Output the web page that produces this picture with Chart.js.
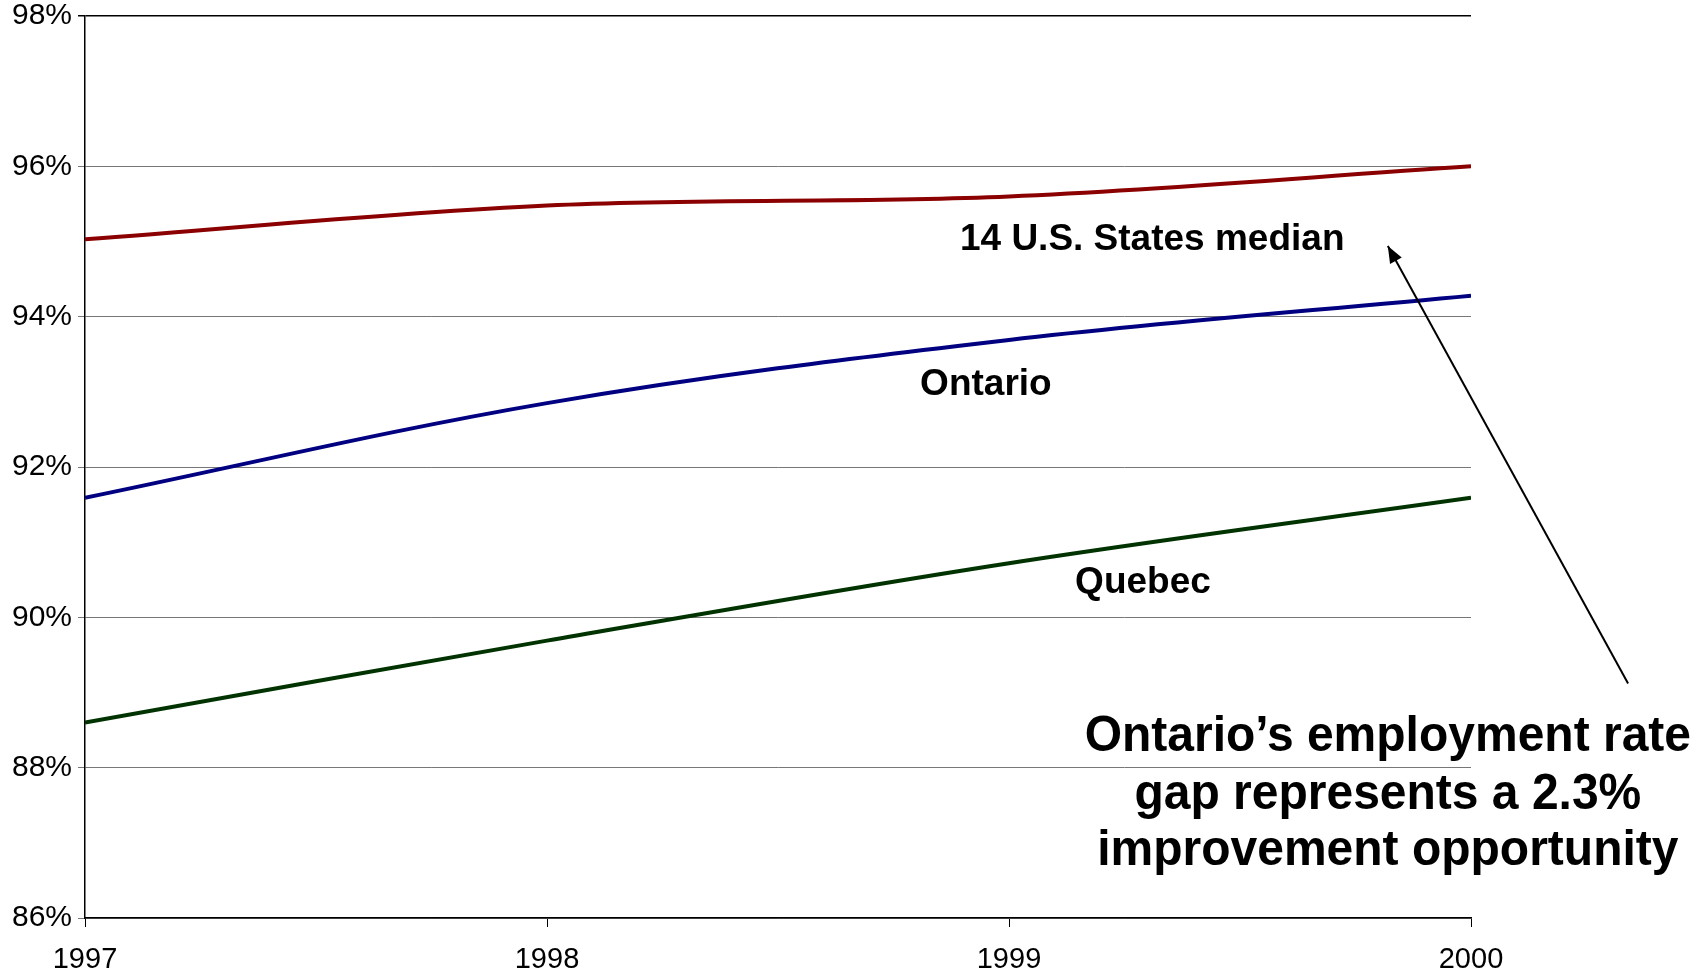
<!DOCTYPE html>
<html>
<head>
<meta charset="utf-8">
<script src="https://cdn.jsdelivr.net/npm/chart.js@4"></script>
<style>
  html, body { margin: 0; padding: 0; background: #fff; }
  #wrap { width: 1707px; height: 975px; }
</style>
</head>
<body>
<div id="wrap"><canvas id="myChart"></canvas></div>
<script>
const ctx = document.getElementById('myChart');

let years      = [1997, 1998, 1999, 2000];
let usMedian   = [95.03, 95.48, 95.6, 96.0];
let ontario    = [91.59, 92.85, 93.69, 94.28];
let quebec     = [88.6, 89.69, 90.72, 91.59];
let yTicks     = [86, 88, 90, 92, 94, 96, 98];

const toPoints = (arr) => arr.map((v, i) => ({ x: years[i], y: v }));

// text labels and the arrow, placed in data units
const notes = {
  id: 'notes',
  afterDatasetsDraw(chart) {
    const c = chart.ctx;
    const xs = chart.scales.x, ys = chart.scales.y;
    const px = v => xs.getPixelForValue(v);
    const py = v => ys.getPixelForValue(v);
    c.save();
    c.fillStyle = '#000';
    c.textAlign = 'center';
    c.textBaseline = 'middle';
    c.font = 'bold 37px "Liberation Sans", Arial, sans-serif';
    c.fillText('14 U.S. States median', px(1999.31), py(95.02));
    c.fillText('Ontario', px(1998.95), py(93.10));
    c.fillText('Quebec', px(1999.29), py(90.46));

    // big note, slightly condensed
    const lines = ['Ontario\u2019s employment rate', 'gap represents a 2.3%', 'improvement opportunity'];
    const ly = [88.40, 87.63, 86.89];
    c.font = 'bold 50px "Liberation Sans", Arial, sans-serif';
    lines.forEach((t, i) => {
      c.save();
      c.translate(px(1999.82), py(ly[i]));
      c.scale(0.96, 1);
      c.fillText(t, 0, 0);
      c.restore();
    });

    // arrow
    const x1 = px(2000.34), y1 = py(89.12);
    const x2 = px(1999.82), y2 = py(94.94);
    c.strokeStyle = '#000';
    c.lineWidth = 2;
    c.beginPath();
    c.moveTo(x1, y1);
    c.lineTo(x2, y2);
    c.stroke();
    const a = Math.atan2(y2 - y1, x2 - x1);
    const len = 18, w = 0.38;
    c.beginPath();
    c.moveTo(x2, y2);
    c.lineTo(x2 - len * Math.cos(a - w), y2 - len * Math.sin(a - w));
    c.lineTo(x2 - len * Math.cos(a + w), y2 - len * Math.sin(a + w));
    c.closePath();
    c.fill();
    c.restore();
  }
};

new Chart(ctx, {
  type: 'line',
  data: {
    datasets: [{
      label: '14 U.S. States median',
      data: toPoints(usMedian),
      borderColor: '#8b0000',
      borderWidth: 4
    }, {
      label: 'Ontario',
      data: toPoints(ontario),
      borderColor: '#000080',
      borderWidth: 4
    }, {
      label: 'Quebec',
      data: toPoints(quebec),
      borderColor: '#003300',
      borderWidth: 4
    }]
  },
  options: {
    responsive: true,
    maintainAspectRatio: false,
    animation: false,
    elements: {
      point: { radius: 0 },
      line: { tension: 0.35, cubicInterpolationMode: 'default' }
    },
    layout: { padding: { top: 16, right: 236, left: 0, bottom: 0 } },
    plugins: {
      legend: { display: false },
      tooltip: { enabled: false }
    },
    scales: {
      x: {
        type: 'linear',
        min: years[0],
        max: years[years.length - 1],
        afterBuildTicks: s => { s.ticks = years.map(v => ({ value: v })); },
        afterFit: s => { s.height = 57; },
        border: { color: '#000', width: 1.5 },
        grid: { drawOnChartArea: false, drawTicks: true, tickLength: 9, color: '#000' },
        ticks: {
          color: '#000',
          padding: 16,
          maxRotation: 0,
          font: { family: '"Liberation Sans", Arial, sans-serif', size: 29 },
          callback: v => String(v)
        }
      },
      y: {
        min: yTicks[0],
        max: yTicks[yTicks.length - 1],
        afterBuildTicks: s => { s.ticks = yTicks.map(v => ({ value: v })); },
        afterFit: s => { s.width = 85; s.paddingTop = 0; s.paddingBottom = 0; },
        border: { color: '#000', width: 1.5 },
        grid: {
          drawTicks: true,
          tickLength: 7,
          color: c => (c.tick && c.tick.value === 98) ? '#000' : '#777',
          lineWidth: c => (c.tick && c.tick.value === 98) ? 1.5 : 1
        },
        ticks: {
          color: '#000',
          padding: 6,
          font: { family: '"Liberation Sans", Arial, sans-serif', size: 30 },
          callback: v => v + '%'
        }
      }
    }
  },
  plugins: [notes]
});
</script>
</body>
</html>
